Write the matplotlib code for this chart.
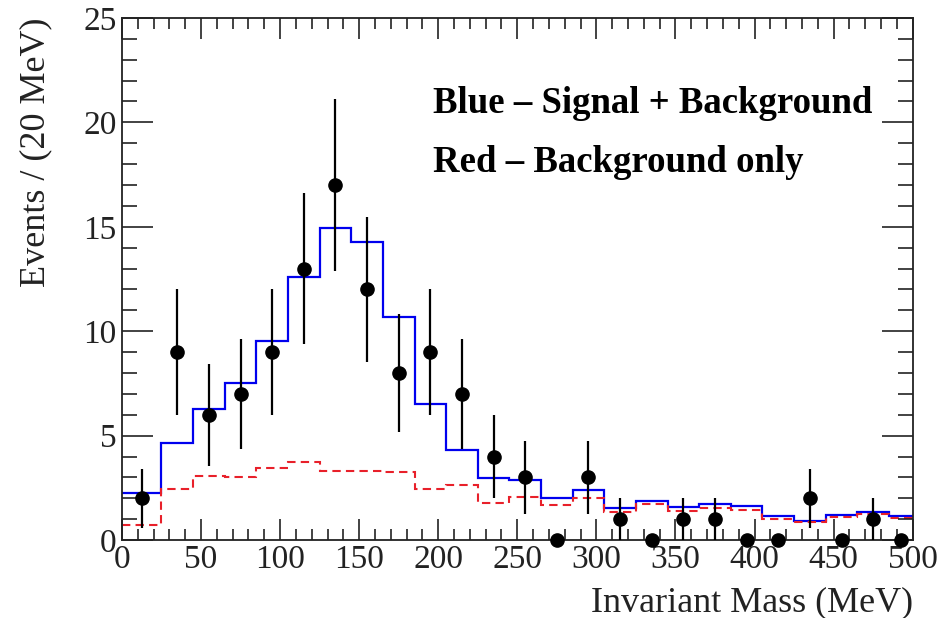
import numpy as np
import matplotlib
matplotlib.use("Agg")
import matplotlib.pyplot as plt
from matplotlib.ticker import MultipleLocator

# Bin edges (MeV) and content
bin_edges = [0, 25, 45, 65, 85, 105, 125, 145, 165, 185, 205, 225, 245, 265,
             285, 305, 325, 345, 365, 385, 405, 425, 445, 465, 485, 500]
signal_plus_bkg = [2.24, 4.63, 6.26, 7.53, 9.55, 12.58, 14.93, 14.26, 10.66, 6.5,
                   4.31, 2.97, 2.87, 2.0, 2.39, 1.56, 1.88, 1.6, 1.72, 1.64,
                   1.17, 0.93, 1.2, 1.33, 1.15]
background = [0.72, 2.47, 3.08, 3.0, 3.43, 3.75, 3.32, 3.3, 3.27, 2.47,
              2.62, 1.76, 2.07, 1.66, 2.0, 1.36, 1.72, 1.39, 1.52, 1.44,
              0.99, 0.89, 1.12, 1.25, 1.04]
data_counts = [2, 9, 6, 7, 9, 13, 17, 12, 8, 9, 7, 4, 3, 0, 3, 1, 0, 1, 1, 0,
               0, 2, 0, 1, 0]

x_label = "Invariant Mass (MeV)"
y_label = "Events / (20 MeV)"
note_lines = ["Blue \u2013 Signal + Background", "Red \u2013 Background only"]

plt.rcParams['font.family'] = ['Liberation Serif', 'DejaVu Serif']

fig = plt.figure(figsize=(9.38, 6.18), dpi=100)
ax = fig.add_axes([0.130, 0.126, 0.843, 0.845])

edges = np.array(bin_edges, dtype=float)
centers = 0.5 * (edges[:-1] + edges[1:])
counts = np.array(data_counts, dtype=float)

ax.stairs(signal_plus_bkg, edges, color='#0000ee', linewidth=1.6, baseline=None)
ax.stairs(background, edges, color='#e8202a', linewidth=1.5, linestyle=(0, (4, 2.5)),
          baseline=None)

err = np.sqrt(counts)
nz = counts > 0
ax.errorbar(centers[nz], counts[nz], yerr=err[nz], fmt='none', ecolor='black',
            elinewidth=1.6, capsize=0, zorder=4)
ax.plot(centers, counts, 'o', color='black', markersize=9.5, zorder=5, clip_on=False)

ax.set_xlim(0, 500)
ax.set_ylim(0, 25)
ax.xaxis.set_major_locator(MultipleLocator(50))
ax.xaxis.set_minor_locator(MultipleLocator(10))
ax.yaxis.set_major_locator(MultipleLocator(5))
ax.yaxis.set_minor_locator(MultipleLocator(1))
ax.tick_params(which='both', direction='in', top=True, right=True, width=1.2,
               labelsize=24, colors='#222222')
ax.tick_params(axis='x', which='major', length=15, pad=3)
ax.tick_params(axis='x', which='minor', length=8)
ax.tick_params(axis='y', which='major', length=22, pad=4)
ax.tick_params(axis='y', which='minor', length=11)
for s in ax.spines.values():
    s.set_linewidth(1.3)
    s.set_color('#222222')

ax.set_xlabel(x_label, fontsize=26, loc='right', color='#222222', labelpad=8)
ax.set_ylabel(y_label, fontsize=26, loc='top', color='#222222', labelpad=22)

ax.text(0.393, 0.818, note_lines[0], transform=ax.transAxes, fontsize=26.5,
        fontweight='bold', color='black', ha='left', va='baseline')
ax.text(0.393, 0.705, note_lines[1], transform=ax.transAxes, fontsize=26.5,
        fontweight='bold', color='black', ha='left', va='baseline')

fig.savefig("out.png", dpi=100)
